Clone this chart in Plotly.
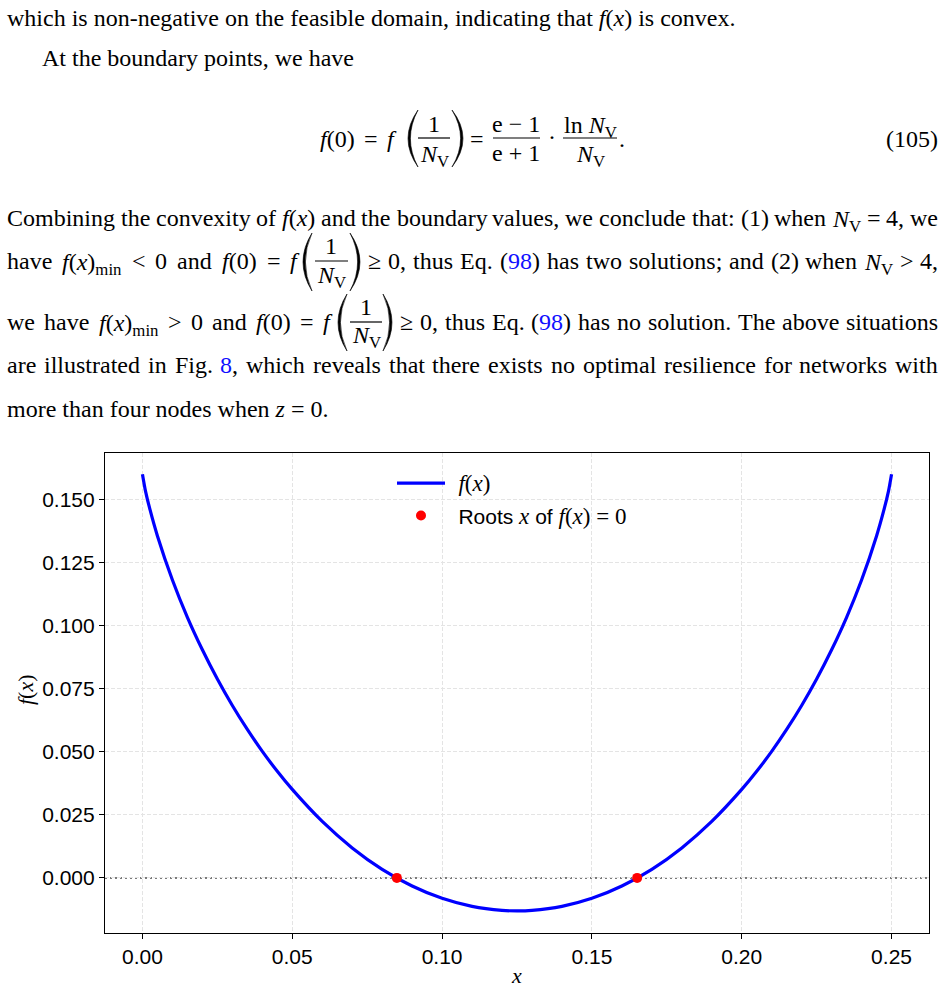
import re
import plotly.graph_objects as go

# ---------------- data ----------------
x_vals = [0.0, 0.001, 0.0025, 0.005, 0.01, 0.015, 0.02, 0.025, 0.03, 0.035, 0.04,
          0.045, 0.05, 0.06, 0.07, 0.08, 0.09, 0.10, 0.11, 0.12, 0.125, 0.13, 0.14,
          0.15, 0.16, 0.17, 0.18, 0.19, 0.20, 0.205, 0.21, 0.215, 0.22, 0.225, 0.23,
          0.235, 0.24, 0.245, 0.2475, 0.249, 0.25]
f_vals = [0.1602, 0.1536, 0.1462, 0.1357, 0.1182, 0.1034, 0.0905, 0.0789, 0.0684,
          0.0589, 0.0502, 0.0423, 0.0351, 0.0224, 0.0119, 0.0034, -0.0032, -0.0081,
          -0.0113, -0.0129, -0.0131, -0.0129, -0.0113, -0.0081, -0.0032, 0.0034,
          0.0119, 0.0224, 0.0351, 0.0423, 0.0502, 0.0589, 0.0684, 0.0789, 0.0905,
          0.1034, 0.1182, 0.1357, 0.1462, 0.1536, 0.1602]
root_x = [0.0849, 0.1651]
root_y = [0.0, 0.0]
x_ticks = [0.0, 0.05, 0.10, 0.15, 0.20, 0.25]
x_tick_labels = ["0.00", "0.05", "0.10", "0.15", "0.20", "0.25"]
y_ticks = [0.0, 0.025, 0.05, 0.075, 0.10, 0.125, 0.15]
y_tick_labels = ["0.000", "0.025", "0.050", "0.075", "0.100", "0.125", "0.150"]

# ---------------- geometry helpers ----------------
W, H = 945, 988
ML, MR, MT, MB = 105, 16, 453, 55
PW = W - ML - MR
PH = H - MT - MB


def X(px):
    return (px - ML) / PW


def Y(py):
    return (H - MB - py) / PH


SERIF = "Liberation Serif, Times New Roman, serif"
SANS = "Liberation Sans, Arial, sans-serif"
FS = 24
BLUE = "#1010ff"

ROMAN = {' ': 250, '!': 333, '(': 333, ')': 333, ',': 250, '-': 333, '.': 250,
         ':': 278, ';': 278, '<': 564, '=': 564, '>': 564, '≥': 549, '−': 564,
         '+': 564, '·': 250}
for d in "0123456789":
    ROMAN[d] = 500
ROMAN.update({'A': 722, 'B': 667, 'C': 667, 'D': 722, 'E': 611, 'F': 556, 'G': 722,
              'H': 722, 'I': 333, 'J': 389, 'K': 722, 'L': 611, 'M': 889, 'N': 722,
              'O': 722, 'P': 556, 'Q': 722, 'R': 667, 'S': 556, 'T': 611, 'U': 722,
              'V': 722, 'W': 944, 'X': 722, 'Y': 722, 'Z': 611,
              'a': 444, 'b': 500, 'c': 444, 'd': 500, 'e': 444, 'f': 333, 'g': 500,
              'h': 500, 'i': 278, 'j': 278, 'k': 500, 'l': 278, 'm': 778, 'n': 500,
              'o': 500, 'p': 500, 'q': 500, 'r': 333, 's': 389, 't': 278, 'u': 500,
              'v': 500, 'w': 722, 'x': 500, 'y': 444, 'z': 444})
ITALIC = {'f': 278, 'x': 444, 'N': 667, 'z': 389, 'V': 611}


def text_width(html, size=FS):
    w = 0.0
    italic = False
    sub = False
    for tok in re.findall(r'<[^>]+>|&[a-z]+;|.', html):
        if tok.startswith('<') and tok.endswith('>') and len(tok) > 1:
            t = tok.lower()
            if t == '<i>':
                italic = True
            elif t == '</i>':
                italic = False
            elif t == '<sub>':
                sub = True
            elif t == '</sub>':
                sub = False
            continue
        ch = {'&lt;': '<', '&gt;': '>', '&amp;': '&'}.get(tok, tok)
        cw = ITALIC[ch] if (italic and ch in ITALIC) else ROMAN.get(ch, 500)
        w += cw * (0.7 if sub else 1.0)
    return w / 1000.0 * size


annotations = []
shapes = []


def add_text(px, py, html, anchor='left', size=FS, family=SERIF, color='black', angle=0):
    ys = -3 if '<sub>' in html else 0
    annotations.append(dict(
        x=X(px), y=Y(py), xref='paper', yref='paper', text=html, showarrow=False,
        xanchor=anchor, yanchor='middle', textangle=angle,
        xshift=-1 if anchor == 'left' else (1 if anchor == 'right' else 0),
        yshift=ys, borderpad=0,
        font=dict(family=family, size=size, color=color)))


def place_words(words, x0, x1, yc, justify=True):
    widths = [text_width(w) for w in words]
    if justify and len(words) > 1:
        gap = (x1 - x0 - sum(widths)) / (len(words) - 1)
    else:
        gap = ROMAN[' '] / 1000.0 * FS
    x = x0
    for w, wd in zip(words, widths):
        add_text(x, yc, w)
        x += wd + gap


def hline(xa, xb, yy, width=1.2):
    shapes.append(dict(type='line', xref='paper', yref='paper', x0=X(xa), x1=X(xb),
                       y0=Y(yy), y1=Y(yy), line=dict(color='black', width=width)))


def paren(xl, xr, yt, yb, left=True):
    ym = (yt + yb) / 2.0
    if left:
        tip, edge = xr, xl
        inner = xl + 2.4
    else:
        tip, edge = xl, xr
        inner = xr - 2.4
    c_out = 2 * edge - tip
    c_in = 2 * inner - tip
    path = (f"M {X(tip):.5f},{Y(yt):.5f} Q {X(c_out):.5f},{Y(ym):.5f} {X(tip):.5f},{Y(yb):.5f} "
            f"Q {X(c_in):.5f},{Y(ym):.5f} {X(tip):.5f},{Y(yt):.5f} Z")
    shapes.append(dict(type='path', xref='paper', yref='paper', path=path,
                       fillcolor='black', line=dict(color='black', width=0.6)))


def frac(xc, xa, xb, ybar, num, den, dnum=14, dden=15):
    add_text(xc, ybar - dnum, num, anchor='center')
    hline(xa, xb, ybar)
    add_text(xc, ybar + dden, den, anchor='center')


NV = "<i>N</i><sub>V</sub>"
FX = "<i>f</i>(<i>x</i>)"

# ---------------- body text ----------------
add_text(7, 18, "which is non-negative on the feasible domain, indicating that "
         + FX + " is convex.")
add_text(42, 58, "At the boundary points, we have")

# display equation (105)
place_words(["<i>f</i>(0)", "=", "<i>f</i>"], 320, 394, 139)
paren(408, 418, 110, 167, left=True)
frac(434, 418, 450, 138, "1", NV)
paren(452, 463, 110, 167, left=False)
add_text(477, 139, "=", anchor='center')
frac(516, 493, 540, 138, "e − 1", "e + 1")
add_text(552, 137, "·", anchor='center')
frac(590, 563, 617, 138, "ln " + NV, NV)
add_text(619, 139, ".")
add_text(938, 139, "(105)", anchor='right')

# paragraph line 1
place_words(["Combining", "the", "convexity", "of", FX, "and", "the", "boundary",
             "values,", "we", "conclude", "that:", "(1)", "when", NV, "=", "4,", "we"],
            7, 938, 218)

# paragraph line 2
place_words(["have", FX + "<sub>min</sub>", "&lt;", "0", "and", "<i>f</i>(0)", "=",
             "<i>f</i>"], 7, 297, 261)
paren(303, 312, 233, 291, left=True)
frac(331, 315, 348, 261, "1", NV, dnum=15, dden=13)
paren(350, 360, 233, 291, left=False)
place_words(["≥", "0,", "thus", "Eq.", "(<span style='color:" + BLUE + "'>98</span>)",
             "has", "two", "solutions;", "and", "(2)", "when", NV, "&gt;", "4,"],
            368, 938, 261)

# paragraph line 3
place_words(["we", "have", FX + "<sub>min</sub>", "&gt;", "0", "and", "<i>f</i>(0)",
             "=", "<i>f</i>"], 7, 330, 322)
paren(338, 347, 294, 351, left=True)
frac(366, 350, 382, 322, "1", NV, dnum=15, dden=12)
paren(383, 392, 294, 351, left=False)
place_words(["≥", "0,", "thus", "Eq.", "(<span style='color:" + BLUE + "'>98</span>)",
             "has", "no", "solution.", "The", "above", "situations"], 400, 938, 322)

# paragraph line 4
place_words(["are", "illustrated", "in", "Fig.", "<span style='color:" + BLUE + "'>8</span>,",
             "which", "reveals", "that", "there", "exists", "no", "optimal", "resilience",
             "for", "networks", "with"], 7, 938, 365)

# paragraph line 5 (last line, not justified)
add_text(7, 409, "more than four nodes when <i>z</i> = 0.")

# y-axis title (placed precisely)
add_text(25, 690, "<i>f</i>(<i>x</i>)", anchor='center', size=22, angle=-90)

# ---------------- chart ----------------
shapes.append(dict(type='line', xref='paper', yref='y', x0=0, x1=1, y0=0, y1=0,
                   layer='below', line=dict(color='#7a7a7a', width=2, dash='2px,3px')))

MATH = "<span style='font-family:Liberation Serif;font-size:23px'>"
PAD = "\u2009\u2009"

fig = go.Figure()
fig.add_trace(go.Scatter(
    x=x_vals, y=f_vals, mode='lines',
    line=dict(color='#0000ff', width=3.2, shape='spline', smoothing=0.6),
    name=PAD + MATH + "<i>f</i>(<i>x</i>)</span>", legendgroup='a'))
fig.add_trace(go.Scatter(
    x=root_x, y=root_y, mode='markers', marker=dict(color='#ff0000', size=10),
    name=PAD + "Roots " + MATH + "<i>x</i></span> of " + MATH + "<i>f</i>(<i>x</i>) = 0</span>",
    legendgroup='b'))

axis_common = dict(showgrid=True, gridcolor='#e4e4e4', griddash='4px,2px', gridwidth=1,
                   showline=True, linecolor='black', linewidth=1.2, mirror=True,
                   ticks='outside', ticklen=5, tickwidth=1.2, tickcolor='black',
                   tickfont=dict(family=SANS, size=21, color='black'), zeroline=False,
                   automargin=False)

fig.update_layout(
    width=W, height=H,
    margin=dict(l=ML, r=MR, t=MT, b=MB, pad=0),
    paper_bgcolor='white', plot_bgcolor='white',
    xaxis=dict(range=[-0.0125, 0.2625], tickvals=x_ticks, ticktext=x_tick_labels,
               title=dict(text='<i>x</i>', font=dict(family=SERIF, size=22, color='black'), standoff=6),
               **axis_common),
    yaxis=dict(range=[-0.02187, 0.1686], tickvals=y_ticks, ticktext=y_tick_labels,
               **axis_common),
    legend=dict(x=X(392), y=Y(463), xanchor='left', yanchor='top', bgcolor='rgba(255,255,255,0)',
                borderwidth=0, font=dict(family=SANS, size=21, color='black'),
                itemwidth=48, tracegroupgap=2, traceorder='grouped'),
    showlegend=True,
    annotations=annotations,
    shapes=shapes,
)

fig.write_html("out.html")
